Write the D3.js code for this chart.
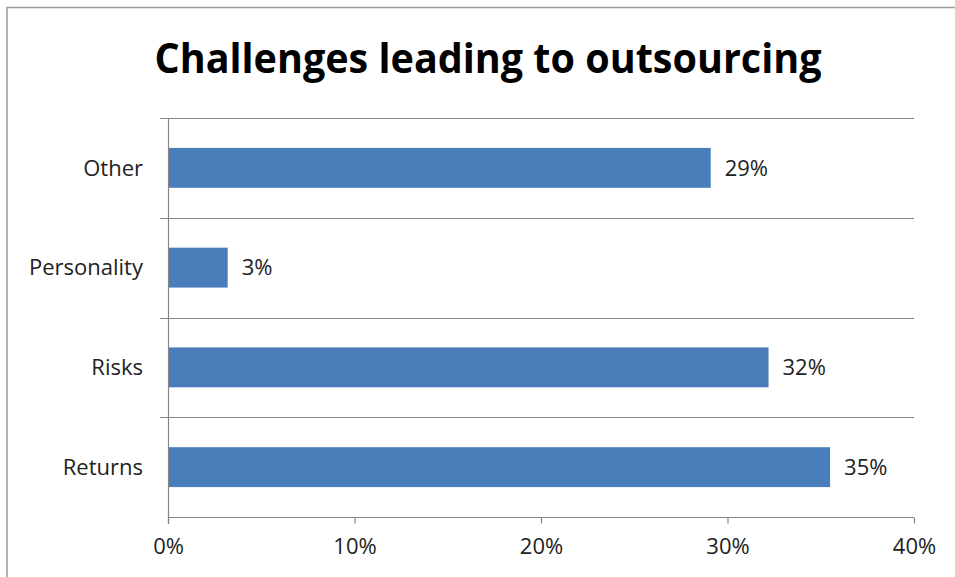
<!DOCTYPE html>
<html><head><meta charset="utf-8">
<script src="https://cdn.jsdelivr.net/npm/d3@7"></script>
<style>
html,body{margin:0;padding:0;background:#fff;}
svg{display:block;font-family:"Open Sans",Lato,sans-serif;}
</style></head>
<body>
<svg id="chart" width="955" height="577"></svg>
<script>
const categories = ["Other", "Personality", "Risks", "Returns"];
const values = [0.291, 0.032, 0.322, 0.355];
const valueLabels = ["29%", "3%", "32%", "35%"];
const xTicks = [0, 0.1, 0.2, 0.3, 0.4];
const title = "Challenges leading to outsourcing";

const svg = d3.select("#chart");
const W = 955, H = 577;
const m = {left: 168, right: 914, top: 118, bottom: 517};
const FONT = "'Open Sans', Lato, sans-serif";

// outer frame (top and left visible)
svg.append("line").attr("x1", 7).attr("x2", W).attr("y1", 7.5).attr("y2", 7.5).attr("stroke", "#9a9a9a").attr("stroke-width", 1.5);
svg.append("line").attr("x1", 7).attr("x2", 7).attr("y1", 7).attr("y2", H).attr("stroke", "#9a9a9a").attr("stroke-width", 1.5);

svg.append("text").attr("x", 488).attr("y", 73).attr("text-anchor", "middle")
  .attr("font-size", 41).attr("font-weight", 700).attr("fill", "#000")
  .attr("textLength", 667).attr("lengthAdjust", "spacingAndGlyphs")
  .text(title);

const x = d3.scaleLinear().domain([0, 0.4]).range([m.left, m.right]);
const y = d3.scaleBand().domain(categories).range([m.top, m.bottom]).paddingInner(0.6).paddingOuter(0.3);
const half = y.step() * 0.3;

// horizontal gridlines at category boundaries (with ticks to the left)
const bounds = categories.map(c => y(c) - half);
svg.append("g").selectAll("line").data(bounds).join("line")
  .attr("x1", m.left - 8).attr("x2", m.right)
  .attr("y1", d => Math.round(d) + 0.5).attr("y2", d => Math.round(d) + 0.5)
  .attr("stroke", "#868686").attr("stroke-width", 1.2);

// bars
svg.append("g").selectAll("rect").data(categories).join("rect")
  .attr("x", x(0)).attr("y", d => y(d))
  .attr("width", (d, i) => x(values[i]) - x(0)).attr("height", y.bandwidth())
  .attr("fill", "#4a7ebb");

// y axis line
svg.append("line").attr("x1", m.left + 0.5).attr("x2", m.left + 0.5)
  .attr("y1", m.top).attr("y2", m.bottom + 7).attr("stroke", "#868686").attr("stroke-width", 1.2);

// x axis
const xAxis = d3.axisBottom(x).tickValues(xTicks).tickFormat(d3.format(".0%")).tickSize(6).tickPadding(15);
const gx = svg.append("g").attr("transform", `translate(0,${m.bottom + 0.5})`).call(xAxis);
gx.select(".domain").attr("stroke", "#868686").attr("stroke-width", 1.2).attr("d", `M${m.left},0H${m.right}`);
gx.selectAll(".tick line").attr("stroke", "#868686").attr("stroke-width", 1.2);
gx.selectAll(".tick text").attr("font-size", 22).attr("fill", "#222").attr("font-family", FONT);

// category labels
svg.append("g").selectAll("text").data(categories).join("text")
  .attr("x", 143).attr("y", d => y(d) + y.bandwidth() / 2).attr("dy", "0.35em")
  .attr("text-anchor", "end").attr("font-size", 22).attr("fill", "#222").text(d => d);

// value labels
svg.append("g").selectAll("text").data(categories).join("text")
  .attr("x", (d, i) => x(values[i]) + 14).attr("y", d => y(d) + y.bandwidth() / 2).attr("dy", "0.35em")
  .attr("font-size", 22).attr("fill", "#222").text((d, i) => valueLabels[i]);
</script>
</body></html>
